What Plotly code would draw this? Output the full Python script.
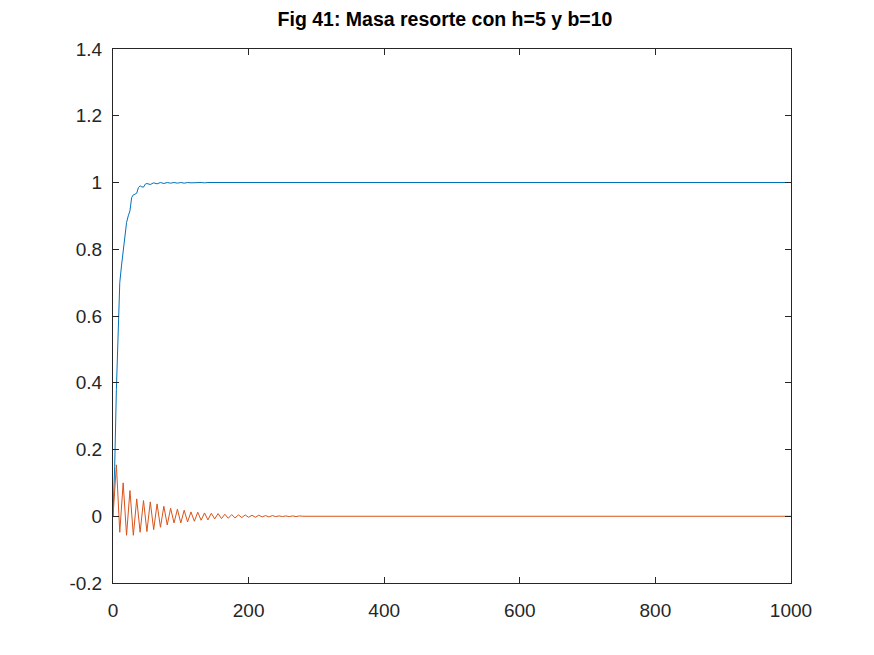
import plotly.graph_objects as go

# Time samples and values
t_blue = [0, 2.5, 5, 7.5, 10, 12.5, 15, 17.5, 20, 22.5, 25, 27.5, 30, 32.5, 35,
          37.5, 40, 42.5, 45, 47.5, 50, 55, 60, 65, 70, 75, 80, 85, 90, 95, 100,
          105, 110, 115, 120, 125, 130, 135, 140, 1000]
blue = [0.0, 0.15, 0.38, 0.57, 0.70, 0.75, 0.79, 0.84, 0.88, 0.90, 0.915, 0.955,
        0.963, 0.965, 0.968, 0.985, 0.990, 0.987, 0.986, 0.995, 0.997, 0.994,
        0.999, 0.996, 1.0, 0.997, 1.0, 0.998, 1.0, 0.998, 1.0, 0.998, 1.0, 0.999,
        1.0, 0.999, 1.0, 0.999, 1.0, 1.0]

t_orange = [0, 5, 10, 15, 20, 25, 30, 35, 40, 45, 50, 55, 60, 65, 70, 75, 80, 85,
            90, 95, 100, 105, 110, 115, 120, 125, 130, 135, 140, 145, 150, 155,
            160, 165, 170, 175, 180, 185, 190, 195, 200, 205, 210, 215, 220, 225,
            230, 235, 240, 245, 250, 255, 260, 265, 270, 275, 280, 1000]
orange = [0.0, 0.154, -0.048, 0.100, -0.057, 0.077, -0.057, 0.052, -0.048, 0.047,
          -0.046, 0.043, -0.040, 0.037, -0.033, 0.030, -0.026, 0.024, -0.020,
          0.021, -0.020, 0.018, -0.017, 0.013, -0.015, 0.012, -0.012, 0.010,
          -0.011, 0.009, -0.008, 0.008, -0.007, 0.006, -0.006, 0.005, -0.005,
          0.004, -0.004, 0.004, -0.003, 0.003, -0.003, 0.003, -0.002, 0.002,
          -0.002, 0.002, -0.001, 0.001, -0.001, 0.001, -0.001, 0.001, -0.001,
          0.001, 0.0, 0.0]

x_ticks = [0, 200, 400, 600, 800, 1000]
x_labels = ["0", "200", "400", "600", "800", "1000"]
y_ticks = [-0.2, 0, 0.2, 0.4, 0.6, 0.8, 1.0, 1.2, 1.4]
y_labels = ["-0.2", "0", "0.2", "0.4", "0.6", "0.8", "1", "1.2", "1.4"]

title_text = "Fig 41: Masa resorte con h=5 y b=10"

fig = go.Figure()
fig.add_trace(go.Scatter(x=t_blue, y=blue, mode="lines",
                         line=dict(color="#0072BD", width=1), showlegend=False))
fig.add_trace(go.Scatter(x=t_orange, y=orange, mode="lines",
                         line=dict(color="#D95319", width=1), showlegend=False))

axis_common = dict(showgrid=False, zeroline=False, showline=True, linecolor="#262626",
                   linewidth=1, mirror="ticks", ticks="inside", ticklen=6,
                   tickcolor="#262626", tickwidth=1,
                   tickfont=dict(family="Liberation Sans, Arial, sans-serif", size=19,
                                 color="#262626"))

fig.update_xaxes(range=[0, 1000], tickvals=x_ticks, ticktext=x_labels,
                 ticklabelstandoff=10, **axis_common)
fig.update_yaxes(range=[-0.2, 1.4], tickvals=y_ticks, ticktext=y_labels,
                 ticklabelstandoff=6, **axis_common)

# the page body adds an 8px offset, so margins are shifted to compensate
fig.update_layout(
    width=874, height=655,
    margin=dict(l=105, r=91, t=41, b=80),
    paper_bgcolor="white", plot_bgcolor="white",
    title=dict(text="<b>" + title_text + "</b>", x=437 / 874, xref="container",
               xanchor="center", y=1 - 11 / 655, yanchor="middle",
               font=dict(family="Liberation Sans, Arial, sans-serif", size=19.5,
                         color="black")),
)

fig.write_html("out.html")
